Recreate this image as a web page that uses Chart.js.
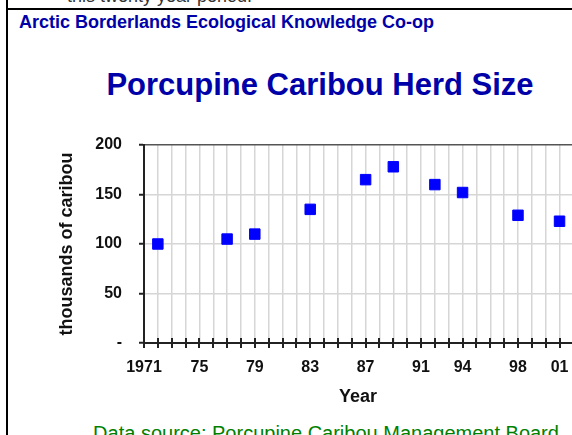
<!DOCTYPE html>
<html><head><meta charset="utf-8">
<script src="https://cdn.jsdelivr.net/npm/chart.js@4.4.0/dist/chart.umd.min.js"></script>
<style>
html,body{margin:0;padding:0;background:#fff;overflow:hidden;}
#wrap{position:relative;width:572px;height:435px;overflow:hidden;background:#fff;}
canvas{position:absolute;left:0;top:0;}
.t{position:absolute;white-space:nowrap;font-family:"Liberation Sans",Arial,sans-serif;}
</style></head><body>
<div id="wrap">
<div class="t" style="left:67px;top:-13px;font-size:18px;line-height:18px;color:#333;">this twenty year period.</div>
<div style="position:absolute;left:6px;top:0;width:2px;height:435px;background:#000"></div>
<div style="position:absolute;left:6px;top:8px;width:566px;height:2px;background:#000"></div>
<div class="t" style="left:19px;top:12.8px;font-weight:bold;font-size:18px;line-height:18px;color:#0000a8;">Arctic Borderlands Ecological Knowledge Co-op</div>
<div class="t" style="left:320px;top:68.8px;transform:translateX(-50%);font-weight:bold;font-size:31px;line-height:31px;color:#0000a8;">Porcupine Caribou Herd Size</div>
<div class="t" style="left:326px;top:422.6px;transform:translateX(-50%);font-size:20px;line-height:20px;color:#008000;">Data source: Porcupine Caribou Management Board</div>
<canvas id="c" width="572" height="435"></canvas>
</div>
<script>
const years = [1972, 1977, 1979, 1983, 1987, 1989, 1992, 1994, 1998, 2001];
const herdSize = [100, 105, 110, 135, 165, 178, 160, 152, 129, 123];
const xTickYears = [1971, 1975, 1979, 1983, 1987, 1991, 1994, 1998, 2001];
const xTickLabels = ['1971', '75', '79', '83', '87', '91', '94', '98', '01'];
const yTickValues = [0, 50, 100, 150, 200];
const yTickLabels = ['-', '50', '100', '150', '200'];
const xMin = 1971, xMax = 2001.9;

const tickFont = {family: '"Liberation Sans", Arial, sans-serif', size: 16, weight: 'bold'};
const titleFont = {family: '"Liberation Sans", Arial, sans-serif', size: 18, weight: 'bold'};

const crossTicks = {
  id: 'crossTicks',
  afterDraw(chart) {
    const xs = chart.scales.x, ca = chart.chartArea, ctx = chart.ctx;
    ctx.save();
    ctx.strokeStyle = '#222';
    ctx.lineWidth = 2;
    xs.ticks.forEach(t => {
      const px = Math.round(xs.getPixelForValue(t.value));
      ctx.beginPath();
      ctx.moveTo(px, ca.bottom - 5);
      ctx.lineTo(px, ca.bottom + 5);
      ctx.stroke();
    });
    ctx.restore();
  }
};

new Chart(document.getElementById('c'), {
  type: 'scatter',
  data: {
    datasets: [{
      data: years.map((y, i) => ({x: y, y: herdSize[i]})),
      pointStyle: 'rect',
      pointRadius: 7.4,
      pointHoverRadius: 7.4,
      backgroundColor: '#0000ff',
      borderColor: '#0000ff',
      borderWidth: 1
    }]
  },
  options: {
    responsive: false,
    animation: false,
    devicePixelRatio: 1,
    layout: {autoPadding: false, padding: {top: 145, left: 0, right: 0, bottom: 0}},
    plugins: {legend: {display: false}, tooltip: {enabled: false}},
    scales: {
      x: {
        type: 'linear',
        min: xMin,
        max: xMax,
        afterBuildTicks: s => {
          const t = [];
          for (let v = xMin; v <= Math.floor(xMax); v++) t.push({value: v});
          s.ticks = t;
        },
        afterFit: s => { s.height = 92; },
        ticks: {
          autoSkip: false,
          maxRotation: 0,
          minRotation: 0,
          padding: 0,
          color: '#111',
          font: tickFont,
          callback: v => { const i = xTickYears.indexOf(v); return i >= 0 ? xTickLabels[i] : ''; }
        },
        grid: {
          color: c => (c.tick && c.tick.value === xMin) ? 'rgba(0,0,0,0)' : '#d6d6d6',
          lineWidth: 1.5,
          tickLength: 15.2,
          tickColor: 'rgba(0,0,0,0)',
          tickWidth: 2
        },
        border: {display: true, color: '#222', width: 2},
        title: {display: true, text: 'Year', color: '#111', font: titleFont, padding: {top: 0, bottom: 27}}
      },
      y: {
        min: 0,
        max: 200,
        afterBuildTicks: s => { s.ticks = yTickValues.map(v => ({value: v})); },
        afterFit: s => { s.width = 144; },
        ticks: {
          padding: 17,
          color: '#111',
          font: tickFont,
          callback: v => { const i = yTickValues.indexOf(v); return i >= 0 ? yTickLabels[i] : ''; }
        },
        grid: {
          color: c => {
            if (!c.tick) return '#d6d6d6';
            if (c.tick.value === 0) return 'rgba(0,0,0,0)';
            if (c.tick.value === 200) return '#555';
            return '#d6d6d6';
          },
          lineWidth: 1.5,
          tickLength: 5,
          tickColor: '#222',
          tickWidth: 2
        },
        border: {display: true, color: '#222', width: 2},
        title: {display: true, text: 'thousands of caribou', color: '#111', font: titleFont, padding: {top: 56.7, bottom: 0}}
      }
    }
  },
  plugins: [crossTicks]
});
</script>
</body></html>
